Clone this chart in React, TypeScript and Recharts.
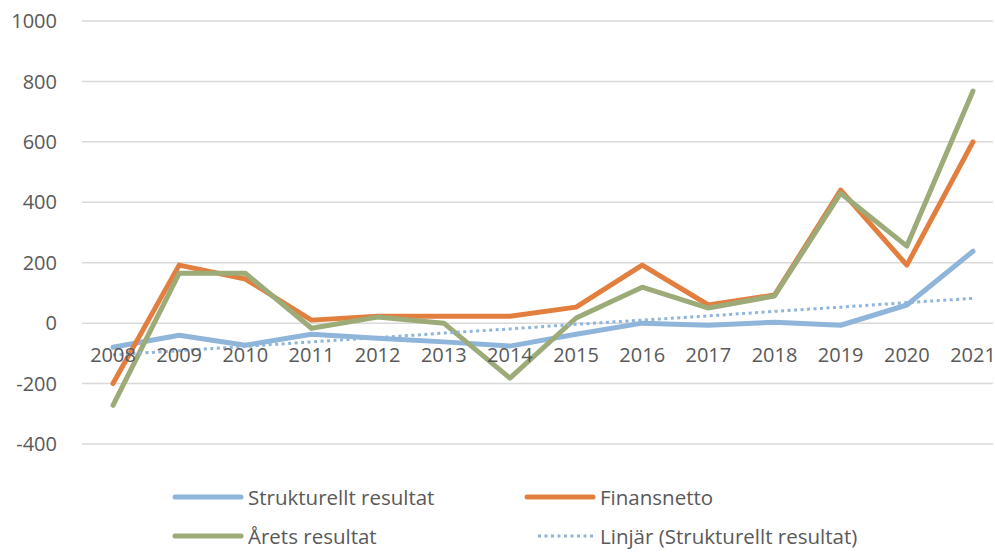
import React from 'react';
import { LineChart, Line, XAxis, YAxis, CartesianGrid, Legend } from 'recharts';

const years = ['2008', '2009', '2010', '2011', '2012', '2013', '2014', '2015', '2016', '2017', '2018', '2019', '2020', '2021'];
const strukturelltResultat = [-80, -40, -73, -37, -50, -62, -76, -37, 0, -7, 3, -7, 60, 238];
const finansnetto = [-200, 192, 146, 10, 23, 23, 23, 53, 192, 60, 93, 440, 192, 600];
const aretsResultat = [-272, 165, 165, -17, 20, 0, -182, 17, 119, 50, 90, 430, 255, 768];
const linjarTrend = [-105, -91, -77, -62, -48, -33, -19, -4, 10, 24, 39, 53, 68, 82];
const yTicks = [-400, -200, 0, 200, 400, 600, 800, 1000];

const data = years.map((year, i) => ({
  year,
  strukturellt: strukturelltResultat[i],
  finansnetto: finansnetto[i],
  arets: aretsResultat[i],
  trend: linjarTrend[i],
}));

const W = 995;
const H = 552;
const PLOT_TOP = 21;
const PLOT_BOTTOM = 444;
const Y_MIN = -400;
const Y_MAX = 1000;
const ZERO_Y = PLOT_TOP + ((PLOT_BOTTOM - PLOT_TOP) * (Y_MAX - 0)) / (Y_MAX - Y_MIN);

const FONT = '"Open Sans", sans-serif';
const TEXT_COLOR = '#595959';
const BLUE = '#8FB5DA';
const ORANGE = '#E37F3E';
const GREEN = '#9CAB78';

const legendItems = [
  { label: 'Strukturellt resultat', color: BLUE, dotted: false, col: 0, row: 0 },
  { label: 'Finansnetto', color: ORANGE, dotted: false, col: 1, row: 0 },
  { label: 'Årets resultat', color: GREEN, dotted: false, col: 0, row: 1 },
  { label: 'Linjär (Strukturellt resultat)', color: BLUE, dotted: true, col: 1, row: 1 },
];

const XTick = (props: any) => {
  const { x, payload } = props;
  return (
    <text
      x={x}
      y={ZERO_Y + 39}
      textAnchor="middle"
      fontFamily={FONT}
      fontSize={20}
      fill={TEXT_COLOR}
    >
      {payload.value}
    </text>
  );
};

const CustomLegend = () => (
  <div style={{ position: 'relative', width: W, height: 74, fontFamily: FONT }}>
    {legendItems.map((item) => (
      <div
        key={item.label}
        style={{
          position: 'absolute',
          left: item.col === 0 ? 172 : 524,
          top: item.row === 0 ? 12 : 51,
          height: 20,
          display: 'flex',
          alignItems: 'center',
          whiteSpace: 'nowrap',
        }}
      >
        <svg width={72} height={10} style={{ marginRight: 4 }}>
          {item.dotted ? (
            <line x1={14} y1={5} x2={70} y2={5} stroke={item.color} strokeWidth={3} strokeDasharray="3 3.5" />
          ) : (
            <line x1={3} y1={5} x2={69} y2={5} stroke={item.color} strokeWidth={5} strokeLinecap="round" />
          )}
        </svg>
        <span style={{ fontSize: 20.5, color: TEXT_COLOR, lineHeight: '20px' }}>{item.label}</span>
      </div>
    ))}
  </div>
);

export default function App() {
  return (
    <div style={{ position: 'absolute', left: 0, top: 0, width: W, height: H, background: '#fff' }}>
      <LineChart
        width={W}
        height={H}
        data={data}
        margin={{ top: PLOT_TOP, right: 2, left: 0, bottom: H - PLOT_BOTTOM - 30 }}
      >
        <CartesianGrid vertical={false} stroke="#D9D9D9" strokeWidth={1.5} />
        <XAxis
          dataKey="year"
          height={30}
          axisLine={false}
          tickLine={false}
          tick={<XTick />}
          interval={0}
          padding={{ left: 31, right: 20 }}
        />
        <YAxis
          width={82}
          domain={[Y_MIN, Y_MAX]}
          ticks={yTicks}
          axisLine={false}
          tickLine={false}
          tickSize={0}
          tickMargin={25}
          tick={{ fontFamily: FONT, fontSize: 20, fill: TEXT_COLOR }}
          interval={0}
        />
        <Legend
          layout="horizontal"
          verticalAlign="middle"
          content={<CustomLegend />}
          wrapperStyle={{ top: 475, left: 0, width: W, height: 74 }}
        />
        <Line
          dataKey="strukturellt"
          name="Strukturellt resultat"
          stroke={BLUE}
          strokeWidth={5}
          dot={false}
          strokeLinecap="round"
          strokeLinejoin="round"
          isAnimationActive={false}
        />
        <Line
          dataKey="finansnetto"
          name="Finansnetto"
          stroke={ORANGE}
          strokeWidth={5}
          dot={false}
          strokeLinecap="round"
          strokeLinejoin="round"
          isAnimationActive={false}
        />
        <Line
          dataKey="arets"
          name="Årets resultat"
          stroke={GREEN}
          strokeWidth={5}
          dot={false}
          strokeLinecap="round"
          strokeLinejoin="round"
          isAnimationActive={false}
        />
        <Line
          dataKey="trend"
          name="Linjär (Strukturellt resultat)"
          stroke={BLUE}
          strokeWidth={3}
          strokeDasharray="3 3.5"
          dot={false}
          isAnimationActive={false}
        />
      </LineChart>
    </div>
  );
}
